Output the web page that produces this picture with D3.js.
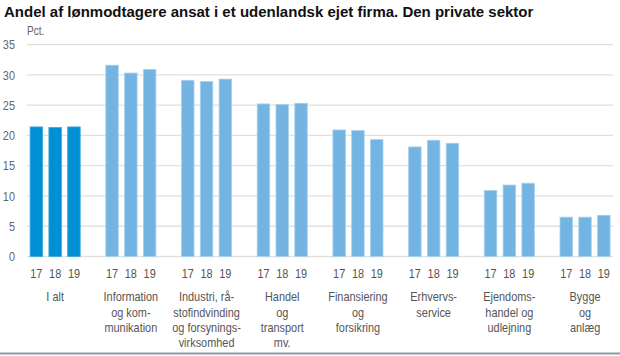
<!DOCTYPE html>
<html><head><meta charset="utf-8">
<script src="https://cdn.jsdelivr.net/npm/d3@7"></script>
<style>
body{margin:0;background:#fff;}
svg{display:block;}
.narrow{font-family:"Liberation Sans",Arial,sans-serif;}
</style></head>
<body><svg id="c" width="620" height="356"></svg>
<script>
const title = "Andel af lønmodtagere ansat i et udenlandsk ejet firma. Den private sektor";
const unitLabel = "Pct.";
const categories = ["I alt","Information og kommunikation","Industri, råstofindvinding og forsyningsvirksomhed","Handel og transport mv.","Finansiering og forsikring","Erhvervsservice","Ejendomshandel og udlejning","Bygge og anlæg"];
const categoryLines = [["I alt"],["Information","og kom-","munikation"],["Industri, rå-","stofindvinding","og forsynings-","virksomhed"],["Handel","og","transport","mv."],["Finansiering","og","forsikring"],["Erhvervs-","service"],["Ejendoms-","handel og","udlejning"],["Bygge","og","anlæg"]];
const years = ["17","18","19"];
const values17 = [21.4,31.6,29.1,25.2,20.9,18.1,10.9,6.5];
const values18 = [21.3,30.3,28.9,25.1,20.8,19.2,11.8,6.5];
const values19 = [21.4,30.9,29.3,25.3,19.3,18.7,12.1,6.8];
const yTicks = [0,5,10,15,20,25,30,35];

const svg = d3.select("#c");
const W = 620, H = 356;
const series = [values17, values18, values19];
const SX = 0.84;

const y = d3.scaleLinear().domain([0,35]).range([256.5,44.6]);
const x0 = d3.scaleBand().domain(categories).range([17.3, 17.3+8*75.7]);
const x1 = d3.scaleBand().domain(years).range([0, x0.bandwidth()*0.745]).paddingInner(0.335).paddingOuter(0.1675);
const innerOff = (x0.bandwidth() - x1.range()[1])/2;

// title
svg.append("text").attr("x",4).attr("y",17).attr("font-family","'Liberation Sans',Arial,sans-serif")
  .attr("font-weight","bold").attr("font-size",15).attr("fill","#111").text(title);

// gridlines
const gx0 = 27, gx1 = 613;
svg.append("g").selectAll("line").data(yTicks).join("line")
  .attr("x1",gx0).attr("x2",gx1).attr("y1",d=>y(d)).attr("y2",d=>y(d))
  .attr("stroke","#e3e1dc").attr("stroke-width",1.3);

// y tick labels
svg.append("g").attr("class","narrow").selectAll("text").data(yTicks).join("text")
  .attr("transform",d=>`translate(15,${y(d)+4.8}) scale(${SX},1)`).attr("text-anchor","end")
  .attr("font-size",13).attr("fill","#666").text(d=>d);

svg.append("text").attr("class","narrow").attr("transform",`translate(27,35) scale(${SX},1)`)
  .attr("font-size",12).attr("fill","#666").text(unitLabel);

// bars
const groups = svg.append("g").selectAll("g").data(categories).join("g")
  .attr("transform",d=>`translate(${x0(d)+innerOff},0)`);
groups.selectAll("rect").data((d,i)=>years.map((yr,j)=>({yr, v: series[j][i], gi:i})))
  .join("rect")
  .attr("x",d=>x1(d.yr)).attr("width",x1.bandwidth())
  .attr("y",d=>y(d.v)).attr("height",d=>y(0)-y(d.v))
  .attr("fill",d=>d.gi===0?"#0090d4":"#74b4e2")
  .attr("stroke",d=>d.gi===0?"#3aa8e0":"#a7d0ee").attr("stroke-width",0.8);

// year labels
groups.selectAll("text.yr").data(years).join("text").attr("class","yr narrow")
  .attr("transform",d=>`translate(${x1(d)+x1.bandwidth()/2},278) scale(${SX},1)`).attr("text-anchor","middle")
  .attr("font-size",13).attr("fill","#555").text(d=>d);

// category labels
svg.append("g").attr("class","narrow").selectAll("text").data(categories).join("text")
  .attr("transform",d=>`translate(${x0(d)+x0.bandwidth()/2},0) scale(${SX},1)`).attr("text-anchor","middle")
  .attr("font-size",13).attr("fill","#555")
  .each(function(d,i){
    d3.select(this).selectAll("tspan").data(categoryLines[i]).join("tspan")
      .attr("x",0).attr("y",(t,k)=>301.5+k*15.2).text(t=>t);
  });

// bottom border
svg.append("line").attr("x1",0).attr("x2",W).attr("y1",353.5).attr("y2",353.5)
  .attr("stroke","#8a9ba6").attr("stroke-width",2);
</script></body></html>
